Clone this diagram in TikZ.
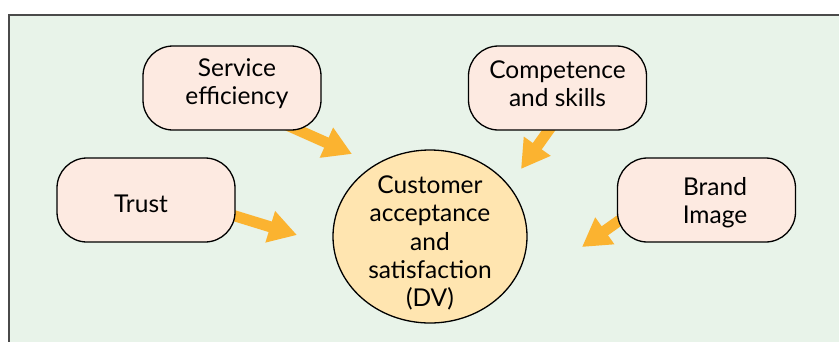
\documentclass[tikz,border=0pt]{standalone}
\usepackage{fontspec}
\setmainfont{Lato}
\usetikzlibrary{arrows.meta,shapes.geometric,calc}
\definecolor{panel}{HTML}{E8F3E9}
\definecolor{boxfill}{HTML}{FDEAE1}
\definecolor{hubfill}{HTML}{FFE5B0}
\definecolor{flow}{HTML}{FBB330}
\definecolor{framec}{HTML}{4A4A4A}
\pgfdeclarelayer{under}
\pgfsetlayers{under,main}
\tikzset{
  factor/.style={draw=black, line width=1.3pt, fill=boxfill, rounded corners=30pt,
    minimum width=178pt, minimum height=84pt, inner sep=0pt},
  hub/.style={ellipse, draw=black, line width=1.3pt, fill=hubfill,
    minimum width=194pt, minimum height=173pt, inner sep=0pt},
  txt/.style={align=center, font=\fontsize{24.5pt}{28.3pt}\selectfont, inner sep=0pt},
  flowarrow/.style={draw=flow, line width=11pt,
    -{Triangle[width=31pt,length=28pt]}, fill=flow},
}
\begin{document}
\begin{tikzpicture}[x=1pt,y=-1pt]
\useasboundingbox (0,0) rectangle (839,341);
\clip (0,0) rectangle (839,341);
\begin{pgfonlayer}{under}
  \fill[white] (0,0) rectangle (839,341);
  \draw[framec, line width=2pt, fill=panel] (8.5,15) rectangle (860,360);
\end{pgfonlayer}

% factor boxes
\node[factor] (se) at (232,88) {};
\node[factor] (cs) at (557.5,88) {};
\node[factor] (tr) at (146,200) {};
\node[factor] (bi) at (706.5,200) {};
% central variable
\node[hub] (dv) at (430,236.5) {};

% labels
\node[txt] (se-t) at (237,84) {Service\\efficiency};
\node[txt] (cs-t) at (557.5,84) {Competence\\and skills};
\node[txt] (tr-t) at (141,203.5) {Trust};
\node[txt] (bi-t) at (715,203) {Brand\\Image};
\node[txt] (dv-t) at (430,243) {Customer\\acceptance\\and\\satisfaction\\(DV)};

% arrow tips
\coordinate (t-se) at (352,154);
\coordinate (t-tr) at (297,235);
\coordinate (t-cs) at (521,169);
\coordinate (t-bi) at (582,247);

\begin{pgfonlayer}{under}
  \draw[flowarrow] ($(se.south east)+(-38,-7)$) -- (t-se);
  \draw[flowarrow] ($(tr.east)+(-7,14)$) -- (t-tr);
  \draw[flowarrow] ($(cs.south)+(-2,-10)$) -- (t-cs);
  \draw[flowarrow] ($(bi.west)+(6,18)$) -- (t-bi);
\end{pgfonlayer}
\end{tikzpicture}
\end{document}
